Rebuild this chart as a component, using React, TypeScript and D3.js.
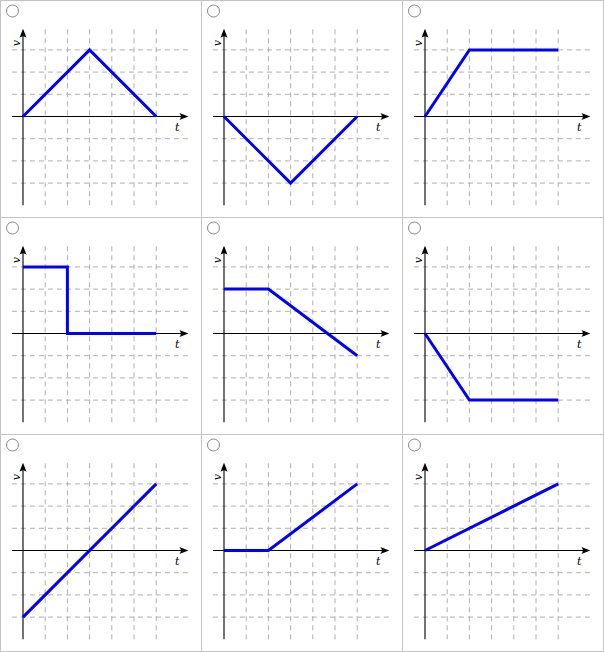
import React from "react";
import * as d3 from "d3";

// each answer option: [t, v] corners of the velocity graph
const panels: [number, number][][] = [
  [[0, 0], [3, 3], [6, 0]],
  [[0, 0], [3, -3], [6, 0]],
  [[0, 0], [2, 3], [6, 3]],
  [[0, 3], [2, 3], [2, 0], [6, 0]],
  [[0, 2], [2, 2], [6, -1]],
  [[0, 0], [2, -3], [6, -3]],
  [[0, -3], [6, 3]],
  [[0, 0], [2, 0], [6, 3]],
  [[0, 0], [6, 3]],
];
const tTicks = [1, 2, 3, 4, 5, 6];
const vTicks = [-3, -2, -1, 1, 2, 3];

const cellW = 201;
const cellH = 217;
const origin = { x: 23, y: 116.5 };
const unit = 22.2;

const x = d3.scaleLinear().domain([0, 6]).range([origin.x, origin.x + 6 * unit]);
const y = d3.scaleLinear().domain([-3, 3]).range([origin.y + 3 * unit, origin.y - 3 * unit]);

const line = d3
  .line<[number, number]>()
  .x((d) => x(d[0]))
  .y((d) => y(d[1]));

const Panel = ({ pts, col, row }: { pts: [number, number][]; col: number; row: number }) => {
  const tMin = -0.5;
  const tMax = 7.45;
  const vMin = -4;
  const vMax = 3.95;
  return (
    <g transform={`translate(${col * cellW}, ${row * cellH})`}>
      <circle cx={12.5} cy={11} r={6} fill="#fff" stroke="#888" strokeWidth={1} />
      <g stroke="#b0b0b0" strokeWidth={1} strokeDasharray="5,4">
        {vTicks.map((v) => (
          <line key={"h" + v} x1={x(tMin)} x2={x(tMax)} y1={y(v)} y2={y(v)} />
        ))}
        {tTicks.map((t) => (
          <line key={"v" + t} x1={x(t)} x2={x(t)} y1={y(vMin)} y2={y(vMax)} />
        ))}
      </g>
      {/* axes */}
      <line x1={x(tMin)} x2={x(tMax) - 2} y1={y(0)} y2={y(0)} stroke="#000" strokeWidth={1.1} />
      <line x1={x(0)} x2={x(0)} y1={y(vMin)} y2={y(vMax) + 2} stroke="#000" strokeWidth={1.1} />
      <path
        d={`M${x(tMax)},${y(0)} l-9,-3.5 q3,3.5 0,7 z`}
        fill="#000"
      />
      <path
        d={`M${x(0)},${y(vMax)} l-3.5,9 q3.5,-3 7,0 z`}
        fill="#000"
      />
      <text
        x={x(6.95)}
        y={y(-0.5)}
        fontFamily="DejaVu Serif"
        fontStyle="italic"
        fontSize={11}
        textAnchor="middle"
        dominantBaseline="middle"
      >
        t
      </text>
      <text
        transform={`translate(${x(-0.27)}, ${y(3.3)}) rotate(-90)`}
        fontFamily="DejaVu Serif"
        fontStyle="italic"
        fontSize={11}
        textAnchor="middle"
        dominantBaseline="middle"
      >
        v
      </text>
      <path d={line(pts) ?? ""} fill="none" stroke="#0000ff" strokeWidth={3} strokeLinejoin="miter" />
    </g>
  );
};

export default function App() {
  const W = 604;
  const H = 652;
  return (
    <svg width={W} height={H} style={{ position: "absolute", left: 0, top: 0, background: "#fff" }}>
      <rect x={0} y={0} width={W} height={H} fill="#fff" />
      {panels.map((pts, i) => (
        <Panel key={i} pts={pts} col={i % 3} row={Math.floor(i / 3)} />
      ))}
      <g stroke="#c4c4c4" strokeWidth={1}>
        {[0, 1, 2, 3].map((c) => (
          <line key={"c" + c} x1={c * cellW + 0.5} x2={c * cellW + 0.5} y1={0} y2={H} />
        ))}
        {[0, 1, 2, 3].map((r) => (
          <line key={"r" + r} x1={0} x2={W} y1={r * cellH + 0.5} y2={r * cellH + 0.5} />
        ))}
      </g>
    </svg>
  );
}
